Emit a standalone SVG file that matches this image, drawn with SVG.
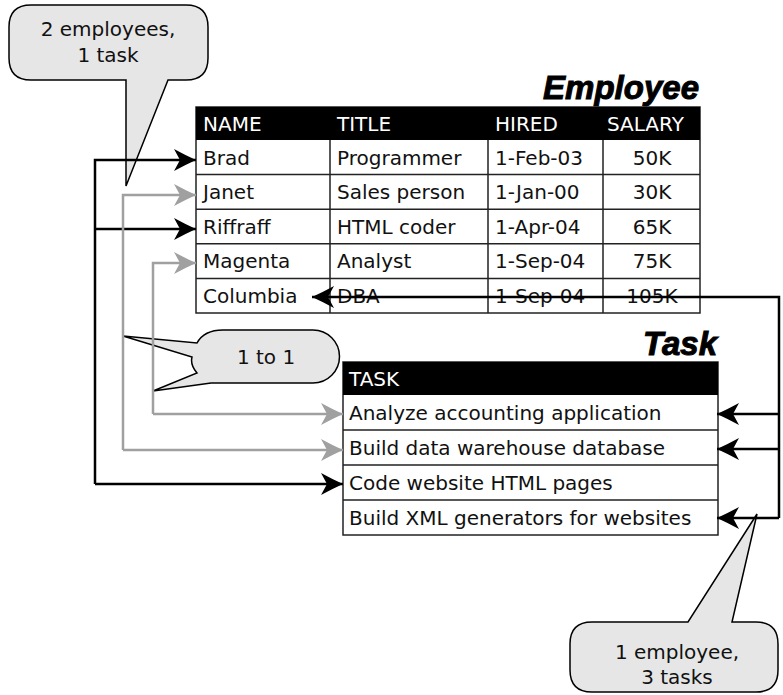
<svg xmlns="http://www.w3.org/2000/svg" width="783" height="695" viewBox="0 0 783 695">
<style>
.t{font-family:"DejaVu Sans","Liberation Sans",sans-serif;font-size:20px;fill:#111}
.h{font-family:"DejaVu Sans","Liberation Sans",sans-serif;font-size:20px;fill:#fff}
.c{text-anchor:middle}
.title{font-family:"Liberation Sans",Arial,sans-serif;font-size:33px;font-weight:bold;font-style:italic;fill:#000;stroke:#000;stroke-width:1;text-anchor:end}
.cell{fill:#fff;stroke:#222;stroke-width:1.5}
.grid{stroke:#222;stroke-width:1.5;fill:none}
.hdr{fill:#000}
.bub{fill:#e6e6e6;stroke:#000;stroke-width:1.5;stroke-linejoin:miter}
.bk{fill:none;stroke:#000;stroke-width:2.5}
.gy{fill:none;stroke:#a0a0a0;stroke-width:2.5}
</style>
<defs>
<marker id="ab" markerUnits="userSpaceOnUse" markerWidth="24" markerHeight="24" refX="22" refY="11" orient="auto" overflow="visible">
<path d="M22,11 Q11,6 0,0 L6,11 L0,22 Q11,16 22,11 Z" fill="#000"/>
</marker>
<marker id="ag" markerUnits="userSpaceOnUse" markerWidth="24" markerHeight="24" refX="22" refY="11" orient="auto" overflow="visible">
<path d="M22,11 Q11,6 0,0 L6,11 L0,22 Q11,16 22,11 Z" fill="#a0a0a0"/>
</marker>
</defs>

<g id="bubble-2emp">
<path class="bub" d="M31,5 H186 Q208,5 208,27 V58 Q208,80 186,80 H168 L126,186 L126,80 H31 Q9,80 9,58 V27 Q9,5 31,5 Z"/>
<text class="t c" x="108" y="36">2 employees,</text>
<text class="t c" x="108" y="62">1 task</text>
</g>

<g id="employee">
<text class="title" x="699" y="99">Employee</text>
<rect class="cell" x="196" y="107" width="504" height="206"/>
<rect class="hdr" x="196" y="107" width="504" height="33"/>
<path class="grid" d="M196,174.6 H700 M196,209.2 H700 M196,243.8 H700 M196,278.4 H700 M330,140 V313 M488,140 V313 M603,140 V313"/>
<text class="h" x="203" y="131">NAME</text>
<text class="h" x="337" y="131">TITLE</text>
<text class="h" x="495" y="131">HIRED</text>
<text class="h" x="607" y="131">SALARY</text>
<text class="t" x="203" y="164.5">Brad</text>
<text class="t" x="337" y="164.5">Programmer</text>
<text class="t" x="495" y="164.5">1-Feb-03</text>
<text class="t c" x="652" y="164.5">50K</text>
<text class="t" x="203" y="199">Janet</text>
<text class="t" x="337" y="199">Sales person</text>
<text class="t" x="495" y="199">1-Jan-00</text>
<text class="t c" x="652" y="199">30K</text>
<text class="t" x="203" y="233.5">Riffraff</text>
<text class="t" x="337" y="233.5">HTML coder</text>
<text class="t" x="495" y="233.5">1-Apr-04</text>
<text class="t c" x="652" y="233.5">65K</text>
<text class="t" x="203" y="268">Magenta</text>
<text class="t" x="337" y="268">Analyst</text>
<text class="t" x="495" y="268">1-Sep-04</text>
<text class="t c" x="652" y="268">75K</text>
<text class="t" x="203" y="303">Columbia</text>
<text class="t" x="337" y="303">DBA</text>
<text class="t" x="495" y="303">1-Sep-04</text>
<text class="t c" x="652" y="303">105K</text>
</g>

<g id="bubble-1to1">
<path class="bub" d="M223,330 H313 A26.5,26.5 0 0 1 313,383 H211 L153,391 L197,373 Q190,365 192,357 L123,336 L197,343 Q204,330 223,330 Z"/>
<text class="t c" x="266" y="364">1 to 1</text>
</g>

<g id="task">
<text class="title" x="717" y="355">Task</text>
<rect class="cell" x="343" y="362" width="375" height="173"/>
<rect class="hdr" x="343" y="362" width="375" height="33"/>
<path class="grid" d="M343,430 H718 M343,465 H718 M343,500 H718"/>
<text class="h" x="349" y="386">TASK</text>
<text class="t" x="349" y="420">Analyze accounting application</text>
<text class="t" x="349" y="455">Build data warehouse database</text>
<text class="t" x="349" y="490">Code website HTML pages</text>
<text class="t" x="349" y="525">Build XML generators for websites</text>
</g>

<g id="bubble-1emp">
<path class="bub" d="M592,622 H688 L757,514 L732,622 H756 Q778,622 778,644 V670 Q778,692 756,692 H592 Q570,692 570,670 V644 Q570,622 592,622 Z"/>
<text class="t c" x="677" y="659">1 employee,</text>
<text class="t c" x="677" y="684">3 tasks</text>
</g>

<g id="connectors">
<path class="bk" d="M95,484 V160 H196" marker-end="url(#ab)"/>
<path class="bk" d="M95,229 H196" marker-end="url(#ab)"/>
<path class="bk" d="M95,484 H343" marker-end="url(#ab)"/>
<path class="gy" d="M123,450 V195 H196" marker-end="url(#ag)"/>
<path class="gy" d="M123,450 H343" marker-end="url(#ag)"/>
<path class="gy" d="M153,414 V263 H196" marker-end="url(#ag)"/>
<path class="gy" d="M153,414 H343" marker-end="url(#ag)"/>
<path class="bk" d="M779,518 V297 H312" marker-end="url(#ab)"/>
<path class="bk" d="M779,414 H717" marker-end="url(#ab)"/>
<path class="bk" d="M779,449 H717" marker-end="url(#ab)"/>
<path class="bk" d="M779,518 H717" marker-end="url(#ab)"/>
</g>
</svg>
